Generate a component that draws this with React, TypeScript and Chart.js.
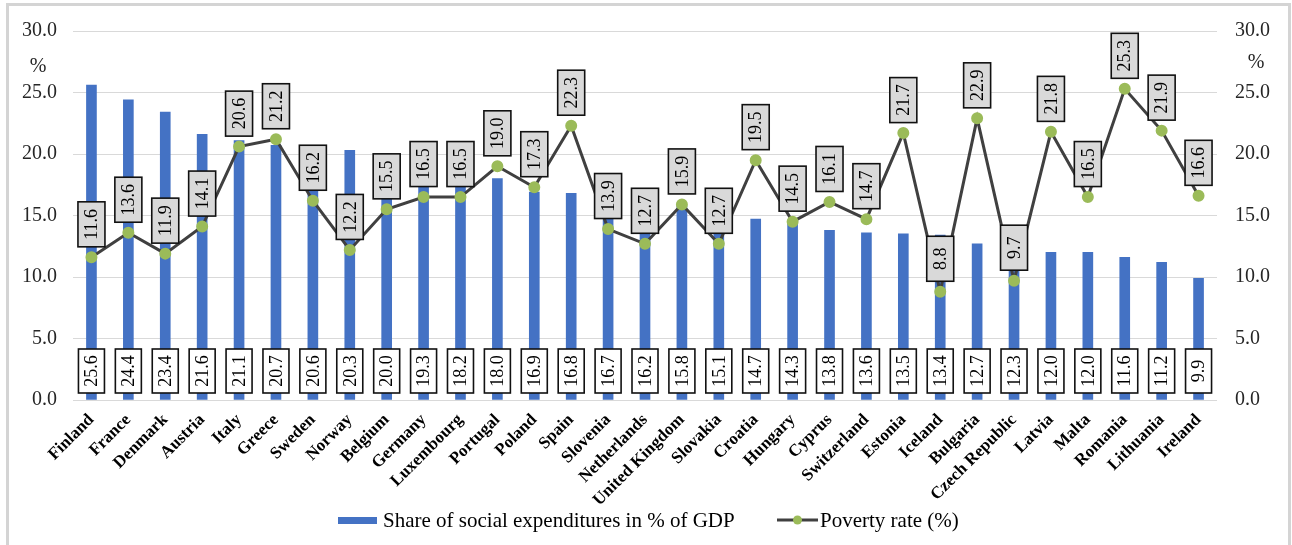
import React, { useEffect, useRef } from 'react';
import { Chart, registerables } from 'chart.js';

Chart.register(...registerables);

const countries = [
  'Finland', 'France', 'Denmark', 'Austria', 'Italy', 'Greece', 'Sweden', 'Norway',
  'Belgium', 'Germany', 'Luxembourg', 'Portugal', 'Poland', 'Spain', 'Slovenia',
  'Netherlands', 'United Kingdom', 'Slovakia', 'Croatia', 'Hungary', 'Cyprus',
  'Switzerland', 'Estonia', 'Iceland', 'Bulgaria', 'Czech Republic', 'Latvia',
  'Malta', 'Romania', 'Lithuania', 'Ireland',
];

const socialExpenditure = [
  25.6, 24.4, 23.4, 21.6, 21.1, 20.7, 20.6, 20.3, 20.0, 19.3, 18.2, 18.0, 16.9, 16.8,
  16.7, 16.2, 15.8, 15.1, 14.7, 14.3, 13.8, 13.6, 13.5, 13.4, 12.7, 12.3, 12.0, 12.0,
  11.6, 11.2, 9.9,
];

const povertyRate = [
  11.6, 13.6, 11.9, 14.1, 20.6, 21.2, 16.2, 12.2, 15.5, 16.5, 16.5, 19.0, 17.3, 22.3,
  13.9, 12.7, 15.9, 12.7, 19.5, 14.5, 16.1, 14.7, 21.7, 8.8, 22.9, 9.7, 21.8, 16.5,
  25.3, 21.9, 16.6,
];

const seriesNames = ['Share of social expenditures in % of GDP', 'Poverty rate (%)'];
const axisUnit = '%';
const axisMin = 0;
const axisMax = 30;
const axisStep = 5;

const FONT = '"Liberation Serif", serif';
const BAR_COLOR = '#4472C4';
const LINE_COLOR = '#404040';
const POINT_COLOR = '#9BBB59';

const annotationPlugin = {
  id: 'boxLabelsAndLegend',
  afterDatasetsDraw(chart: any) {
    const ctx = chart.ctx as CanvasRenderingContext2D;
    const lineMeta = chart.getDatasetMeta(0);
    const barMeta = chart.getDatasetMeta(1);
    const yBase = chart.scales.y.getPixelForValue(0);
    const drawBox = (cx: number, cy: number, w: number, h: number, text: string, fill: string) => {
      ctx.save();
      ctx.fillStyle = fill;
      ctx.fillRect(cx - w / 2, cy - h / 2, w, h);
      ctx.strokeStyle = '#111';
      ctx.lineWidth = 1.6;
      ctx.strokeRect(cx - w / 2, cy - h / 2, w, h);
      ctx.translate(cx, cy);
      ctx.rotate(-Math.PI / 2);
      ctx.fillStyle = '#000';
      ctx.font = `18px ${FONT}`;
      ctx.textAlign = 'center';
      ctx.textBaseline = 'middle';
      ctx.fillText(text, 0, 1);
      ctx.restore();
    };
    barMeta.data.forEach((el: any, i: number) => {
      drawBox(el.x, yBase - 29, 26, 44, socialExpenditure[i].toFixed(1), '#ffffff');
    });
    lineMeta.data.forEach((el: any, i: number) => {
      drawBox(el.x, el.y - 33, 27, 45, povertyRate[i].toFixed(1), '#D9D9D9');
    });
  },
  afterDraw(chart: any) {
    const ctx = chart.ctx as CanvasRenderingContext2D;
    ctx.save();
    // unit labels
    ctx.fillStyle = '#262626';
    ctx.font = `20px ${FONT}`;
    ctx.textAlign = 'center';
    ctx.textBaseline = 'middle';
    ctx.fillText(axisUnit, 38, 67);
    ctx.fillText(axisUnit, 1256, 63);
    // legend
    const ly = 520;
    ctx.font = `21px ${FONT}`;
    ctx.fillStyle = BAR_COLOR;
    ctx.fillRect(338, ly - 3, 39, 7);
    ctx.fillStyle = '#000';
    ctx.textAlign = 'left';
    ctx.fillText(seriesNames[0], 383, ly + 1);
    ctx.strokeStyle = LINE_COLOR;
    ctx.lineWidth = 3;
    ctx.beginPath();
    ctx.moveTo(777, ly);
    ctx.lineTo(818, ly);
    ctx.stroke();
    ctx.fillStyle = POINT_COLOR;
    ctx.beginPath();
    ctx.arc(797.5, ly, 4.5, 0, Math.PI * 2);
    ctx.fill();
    ctx.fillStyle = '#000';
    ctx.fillText(seriesNames[1], 820, ly + 1);
    ctx.restore();
  },
};

export default function App() {
  const canvasRef = useRef<HTMLCanvasElement | null>(null);

  useEffect(() => {
    if (!canvasRef.current) return;
    const chart = new Chart(canvasRef.current, {
      type: 'bar',
      data: {
        labels: countries,
        datasets: [
          {
            type: 'line',
            label: seriesNames[1],
            data: povertyRate,
            yAxisID: 'y1',
            borderColor: LINE_COLOR,
            borderWidth: 3,
            pointBackgroundColor: POINT_COLOR,
            pointBorderColor: POINT_COLOR,
            pointRadius: 4.5,
            tension: 0,
            order: 0,
          } as any,
          {
            type: 'bar',
            label: seriesNames[0],
            data: socialExpenditure,
            yAxisID: 'y',
            backgroundColor: BAR_COLOR,
            barThickness: 10,
            order: 1,
          },
        ],
      },
      options: {
        responsive: false,
        animation: false,
        layout: { padding: { top: 31, left: 0, right: 0, bottom: 0 } },
        plugins: { legend: { display: false }, tooltip: { enabled: false } },
        scales: {
          x: {
            grid: { display: false },
            border: { display: false },
            ticks: {
              autoSkip: false,
              maxRotation: 45,
              minRotation: 45,
              color: '#000',
              font: { family: FONT, size: 17, weight: 'bold' },
              padding: 2,
            },
            afterFit: (s: any) => { s.height = 145; },
          },
          y: {
            position: 'left',
            min: axisMin,
            max: axisMax,
            grid: { color: '#D9D9D9', lineWidth: 1, drawTicks: false },
            border: { display: false },
            ticks: {
              stepSize: axisStep,
              padding: 16,
              color: '#262626',
              font: { family: FONT, size: 20 },
              callback: (v: any) => Number(v).toFixed(1),
            },
            afterFit: (s: any) => { s.width = 73; },
          },
          y1: {
            position: 'right',
            min: axisMin,
            max: axisMax,
            grid: { display: false, drawTicks: false },
            border: { display: false },
            ticks: {
              stepSize: axisStep,
              padding: 18,
              color: '#262626',
              font: { family: FONT, size: 20 },
              callback: (v: any) => Number(v).toFixed(1),
            },
            afterFit: (s: any) => { s.width = 75; },
          },
        },
      },
      plugins: [annotationPlugin],
    });
    return () => chart.destroy();
  }, []);

  return (
    <div style={{ position: 'fixed', left: 0, top: 0, width: 1292, height: 545, overflow: 'hidden', background: '#fff' }}>
      <div
        style={{
          position: 'absolute',
          left: 6,
          top: 3,
          width: 1285,
          height: 600,
          border: '3px solid #D4D4D4',
          boxSizing: 'border-box',
          pointerEvents: 'none',
        }}
      />
      <canvas ref={canvasRef} width={1292} height={545} style={{ position: 'absolute', left: 0, top: 0, display: 'block' }} />
    </div>
  );
}
